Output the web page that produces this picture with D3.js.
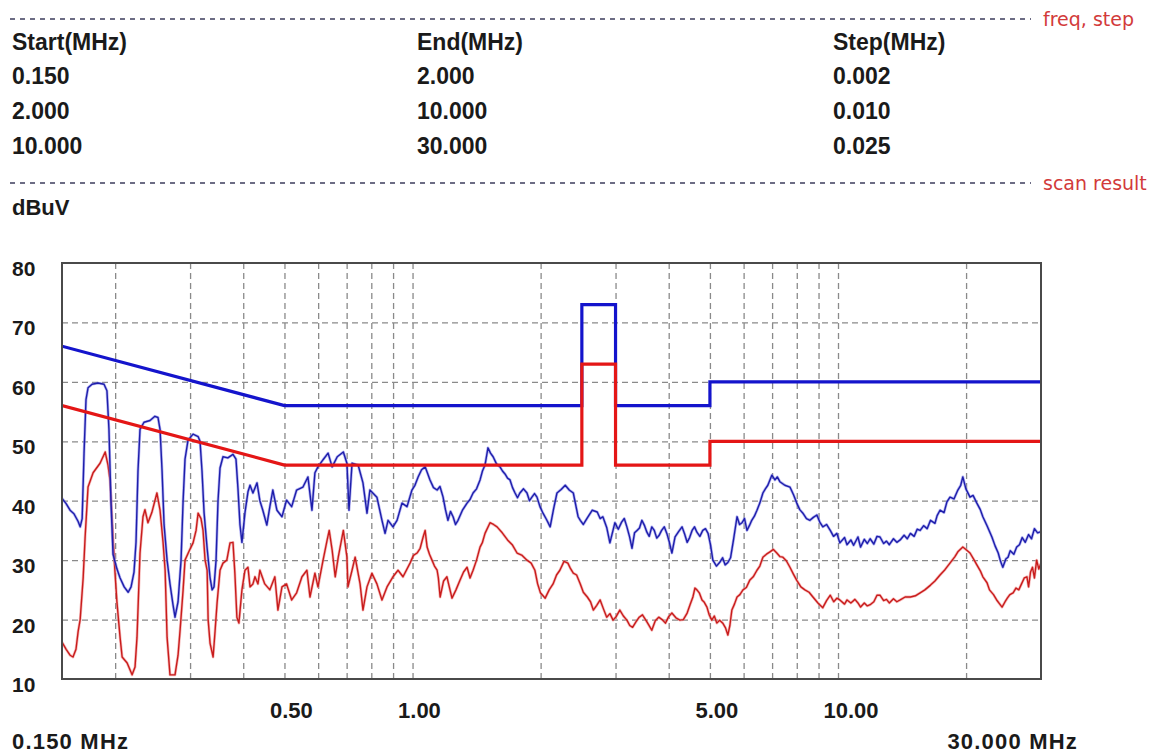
<!DOCTYPE html>
<html>
<head>
<meta charset="utf-8">
<script src="https://cdn.jsdelivr.net/npm/d3@7"></script>
<style>
  body { margin: 0; background: #ffffff; }
  svg { display: block; }
</style>
</head>
<body>
<svg id="chart" width="1152" height="754"></svg>
<script>
// ---- scan settings table ----
const tableHeaders = ["Start(MHz)", "End(MHz)", "Step(MHz)"];
const startFreqs = ["0.150", "2.000", "10.000"];
const endFreqs = ["2.000", "10.000", "30.000"];
const stepSizes = ["0.002", "0.010", "0.025"];
const sectionTitles = ["freq, step", "scan result"];

// ---- axes ----
const yUnit = "dBuV";
const yTicks = [10, 20, 30, 40, 50, 60, 70, 80];
const yGrid = [20, 30, 40, 50, 60, 70];
const xTickValues = [0.5, 1, 5, 10];
const xGrid = [0.2, 0.3, 0.4, 0.5, 0.6, 0.7, 0.8, 0.9, 1, 2, 3, 4, 5, 6, 7, 8, 9, 10, 20];
const xEndLabels = ["0.150 MHz", "30.000 MHz"];

// ---- limit lines (MHz, dBuV) ----
const limitFreq = [0.15, 0.5, 2.5, 2.5, 3.0, 3.0, 5, 5, 30];
const qpLimit = [66, 56, 56, 73, 73, 56, 56, 60, 60];
const avLimit = [56, 46, 46, 63, 63, 46, 46, 50, 50];

// ---- peak scan, blue: [MHz, dBuV] ----
const peakScan = [
  [0.150,40.4],[0.1534,39.5],[0.1567,38.4],[0.160,37.8],[0.1637,36.5],[0.1655,35.6],[0.1673,37.0],[0.169,48.0],[0.1708,57.0],[0.1727,59.0],
  [0.1765,59.6],[0.1823,59.8],[0.1883,59.6],[0.1913,58.5],[0.1934,52.0],[0.1955,40.0],[0.1977,31.0],[0.202,28.5],[0.2054,27.0],[0.210,25.5],
  [0.2146,24.6],[0.218,25.5],[0.2215,28.0],[0.2239,33.0],[0.2263,45.0],[0.2288,52.0],[0.2338,53.2],[0.2415,53.5],[0.248,54.2],[0.2522,54.0],
  [0.255,52.0],[0.2578,45.0],[0.2606,36.0],[0.2649,30.0],[0.2691,26.0],[0.2735,22.5],[0.2765,20.4],[0.2811,23.0],[0.2857,30.0],[0.2889,40.0],
  [0.2919,47.0],[0.2967,50.2],[0.3049,51.2],[0.3133,50.8],[0.3166,50.0],[0.320,45.0],[0.3236,38.0],[0.329,32.0],[0.3343,27.0],[0.338,25.0],
  [0.3415,25.5],[0.3453,30.0],[0.349,40.0],[0.3528,45.5],[0.3585,47.4],[0.368,47.2],[0.3784,47.8],[0.3846,47.0],[0.3888,42.0],[0.393,36.0],
  [0.3972,33.0],[0.4038,38.0],[0.4104,41.5],[0.415,42.6],[0.4216,41.3],[0.431,43.0],[0.4377,40.0],[0.4447,38.4],[0.4545,35.9],[0.462,39.0],
  [0.4695,41.8],[0.480,38.4],[0.4933,37.3],[0.5057,40.1],[0.5199,39.0],[0.534,41.8],[0.5526,42.3],[0.5677,44.0],[0.5802,38.4],[0.5896,44.7],
  [0.5994,45.7],[0.6162,46.9],[0.6331,48.0],[0.6472,45.7],[0.6654,47.4],[0.6876,48.2],[0.7011,46.3],[0.709,38.4],[0.7208,46.3],[0.7449,46.0],
  [0.7647,43.0],[0.7815,37.9],[0.794,41.8],[0.8246,40.6],[0.8475,36.7],[0.8618,34.5],[0.8759,36.7],[0.8995,35.6],[0.9195,36.7],[0.9445,39.6],
  [0.9706,39.0],[0.9968,41.8],[1.013,42.6],[1.0307,44.0],[1.05,45.2],[1.0705,45.7],[1.085,44.6],[1.099,43.5],[1.12,42.2],[1.1422,41.8],
  [1.16,42.4],[1.1797,40.6],[1.195,38.5],[1.2112,36.7],[1.228,38.2],[1.2453,37.3],[1.262,36.0],[1.2791,36.7],[1.31,38.4],[1.3432,39.6],
  [1.365,40.2],[1.3876,41.3],[1.414,42.0],[1.441,43.5],[1.46,45.0],[1.4803,46.0],[1.504,48.9],[1.525,48.0],[1.5466,47.4],[1.575,46.2],
  [1.605,45.7],[1.627,45.0],[1.6495,44.5],[1.672,43.8],[1.6946,43.5],[1.718,42.2],[1.7415,41.3],[1.765,40.5],[1.788,41.3],[1.823,42.0],
  [1.858,41.3],[1.883,40.0],[1.908,40.6],[1.935,41.2],[1.961,40.6],[1.993,39.0],[2.026,37.9],[2.066,36.8],[2.106,35.6],[2.145,38.6],
  [2.185,41.3],[2.235,41.9],[2.285,42.6],[2.335,41.8],[2.387,41.3],[2.45,37.3],[2.479,36.7],[2.52,36.0],[2.575,37.1],[2.645,38.4],
  [2.717,38.1],[2.76,37.0],[2.801,37.3],[2.86,35.5],[2.91,32.9],[2.99,36.3],[3.045,35.2],[3.10,36.4],[3.145,37.0],[3.19,35.6],
  [3.235,34.0],[3.28,32.0],[3.325,34.6],[3.37,35.0],[3.415,35.4],[3.46,36.7],[3.51,35.8],[3.555,34.7],[3.60,34.0],[3.65,35.6],
  [3.70,35.0],[3.75,33.7],[3.80,34.2],[3.85,35.0],[3.905,35.6],[3.96,34.5],[4.015,33.0],[4.07,31.2],[4.14,33.9],[4.22,34.8],
  [4.30,35.6],[4.36,34.4],[4.42,33.0],[4.48,33.8],[4.54,35.0],[4.60,35.6],[4.66,34.7],[4.735,34.0],[4.81,35.0],[4.88,35.3],
  [4.95,34.5],[5.015,32.6],[5.08,30.0],[5.18,29.0],[5.28,29.7],[5.355,30.4],[5.43,29.2],[5.51,29.6],[5.59,30.4],[5.68,33.4],
  [5.79,37.3],[5.87,36.0],[5.95,36.3],[6.03,37.0],[6.11,35.0],[6.19,35.8],[6.27,36.7],[6.36,37.4],[6.45,38.4],[6.55,39.6],
  [6.66,41.3],[6.75,42.0],[6.84,42.6],[6.99,44.3],[7.11,43.5],[7.20,44.0],[7.30,43.2],[7.50,42.6],[7.71,42.3],[7.86,41.0],
  [8.00,39.6],[8.13,38.5],[8.27,37.9],[8.43,37.0],[8.59,36.7],[8.75,37.2],[8.92,37.6],[9.06,36.4],[9.21,35.6],[9.40,36.0],
  [9.59,35.0],[9.76,34.0],[9.94,34.5],[10.1,32.9],[10.36,33.8],[10.5,32.6],[10.72,33.4],[10.88,32.5],[11.14,33.9],[11.3,32.2],
  [11.53,33.5],[11.72,32.8],[11.9,33.6],[12.14,32.7],[12.35,34.0],[12.55,33.9],[12.8,32.8],[13.0,33.2],[13.2,32.6],[13.5,33.6],
  [13.75,33.0],[14.0,33.4],[14.3,34.2],[14.55,33.6],[14.8,34.5],[15.1,34.0],[15.35,35.2],[15.6,35.0],[15.9,35.8],[16.2,35.3],
  [16.5,36.7],[16.9,36.2],[17.1,37.5],[17.37,38.4],[17.75,38.0],[18.03,39.8],[18.33,40.6],[18.73,40.3],[19.13,41.8],[19.43,42.6],
  [19.65,44.0],[19.98,42.0],[20.43,40.6],[20.77,40.9],[21.2,39.6],[21.6,38.5],[21.9,37.3],[22.4,35.8],[23.0,33.9],[23.4,32.4],
  [23.8,31.2],[24.1,29.8],[24.4,28.8],[24.8,30.2],[25.1,30.5],[25.4,31.6],[25.9,31.0],[26.3,32.2],[26.7,32.6],[27.1,33.8],
  [27.55,33.0],[28.05,34.3],[28.5,33.6],[28.95,35.3],[29.45,34.6],[30.0,34.8]
];

// ---- average scan, red: [MHz, dBuV] ----
const avgScan = [
  [0.150,16.2],[0.1534,15.0],[0.1567,14.0],[0.1592,13.7],[0.1618,15.0],[0.1637,18.0],[0.1655,20.0],[0.1682,27.0],[0.170,33.9],[0.1727,42.3],
  [0.1775,44.7],[0.1843,46.3],[0.1895,48.2],[0.1924,46.0],[0.1945,43.5],[0.1977,33.9],[0.1998,28.0],[0.202,22.8],[0.2054,17.0],[0.2077,13.7],
  [0.2134,12.7],[0.2192,10.7],[0.2227,12.0],[0.2251,17.0],[0.2288,31.2],[0.2325,37.3],[0.235,38.5],[0.2388,36.3],[0.2439,38.0],[0.2507,41.3],
  [0.255,38.4],[0.2592,33.0],[0.2621,28.3],[0.2649,17.0],[0.2691,10.7],[0.2765,10.7],[0.2811,14.0],[0.2842,18.2],[0.2889,25.0],[0.2919,30.0],
  [0.2983,31.5],[0.3049,32.9],[0.3099,35.0],[0.3133,37.9],[0.3183,37.0],[0.3218,35.0],[0.3254,30.0],[0.329,28.3],[0.3308,20.0],[0.3343,16.0],
  [0.3398,13.7],[0.3434,18.0],[0.3472,22.8],[0.3528,28.3],[0.3585,29.5],[0.366,30.0],[0.3724,32.9],[0.3784,33.0],[0.3823,27.8],[0.3865,20.4],
  [0.3907,19.4],[0.3972,25.0],[0.4038,28.3],[0.4104,28.8],[0.415,25.5],[0.4216,26.0],[0.4262,27.2],[0.4332,26.0],[0.4377,28.3],[0.4494,26.0],
  [0.462,25.0],[0.4747,27.2],[0.4826,21.6],[0.4933,25.5],[0.5057,26.0],[0.5199,23.3],[0.534,24.5],[0.5497,27.2],[0.5646,28.3],[0.574,23.8],
  [0.5896,27.8],[0.5994,25.5],[0.6162,30.0],[0.630,33.4],[0.637,35.0],[0.6472,31.7],[0.658,27.2],[0.669,30.5],[0.6876,35.0],[0.7011,30.5],
  [0.705,25.5],[0.7208,28.3],[0.733,30.5],[0.7528,26.0],[0.7647,21.6],[0.7815,25.5],[0.8027,27.8],[0.8246,26.0],[0.8475,23.3],[0.871,25.5],
  [0.8995,27.2],[0.9245,28.3],[0.9497,27.2],[0.9865,29.5],[1.005,30.8],[1.0248,31.2],[1.042,32.0],[1.059,33.9],[1.0705,35.0],[1.082,32.2],
  [1.096,31.0],[1.111,30.0],[1.126,29.0],[1.1422,28.3],[1.15,27.0],[1.161,23.8],[1.183,26.5],[1.2044,27.2],[1.22,25.5],[1.238,23.6],
  [1.265,25.0],[1.2926,26.6],[1.318,28.0],[1.3432,28.8],[1.365,27.0],[1.3876,28.3],[1.414,30.0],[1.441,32.2],[1.46,33.0],[1.4803,34.5],
  [1.521,36.3],[1.55,36.0],[1.58,35.6],[1.625,34.6],[1.672,33.4],[1.715,32.6],[1.7605,31.2],[1.81,30.8],[1.858,30.0],[1.90,29.5],
  [1.939,28.3],[1.968,26.0],[1.998,24.5],[2.05,23.6],[2.095,25.0],[2.1395,26.0],[2.18,27.5],[2.2195,28.3],[2.27,29.8],[2.318,29.5],
  [2.35,28.6],[2.387,27.8],[2.43,27.5],[2.479,26.0],[2.52,24.6],[2.575,23.8],[2.62,23.0],[2.66,21.6],[2.71,22.4],[2.76,23.3],
  [2.81,21.8],[2.86,20.4],[2.91,21.0],[2.96,19.9],[3.01,20.5],[3.07,21.6],[3.13,20.6],[3.19,19.9],[3.24,19.0],[3.29,18.7],
  [3.35,19.6],[3.41,20.4],[3.47,20.8],[3.535,19.9],[3.59,19.1],[3.65,18.2],[3.72,19.8],[3.79,20.4],[3.86,20.0],[3.93,19.4],
  [4.0,20.5],[4.07,21.1],[4.16,20.3],[4.25,19.9],[4.33,20.0],[4.42,21.1],[4.49,22.5],[4.56,23.8],[4.61,25.3],[4.66,25.0],
  [4.72,24.5],[4.79,23.3],[4.85,22.9],[4.92,22.1],[4.98,20.8],[5.05,19.9],[5.12,20.6],[5.19,19.4],[5.27,19.9],[5.36,19.4],
  [5.44,18.6],[5.51,17.4],[5.57,19.0],[5.63,21.6],[5.71,22.6],[5.79,23.8],[5.88,24.2],[5.98,25.0],[6.09,25.4],[6.20,26.6],
  [6.32,27.2],[6.45,28.3],[6.55,29.0],[6.66,30.5],[6.79,31.0],[6.92,31.4],[7.05,31.8],[7.18,31.2],[7.30,30.6],[7.42,30.5],
  [7.56,29.9],[7.71,28.8],[7.85,27.7],[8.0,26.6],[8.18,25.5],[8.36,25.0],[8.55,24.6],[8.73,23.8],[8.97,22.8],[9.21,22.0],
  [9.40,23.2],[9.59,24.1],[9.77,23.0],[9.94,23.6],[10.1,23.3],[10.36,22.6],[10.5,23.3],[10.72,22.8],[10.96,23.4],[11.14,22.8],
  [11.3,22.1],[11.53,22.8],[11.72,22.3],[11.9,22.5],[12.14,23.0],[12.35,24.1],[12.55,24.1],[12.8,23.2],[13.0,23.4],[13.2,22.8],
  [13.5,23.5],[13.75,23.0],[14.0,23.3],[14.38,23.8],[14.8,23.8],[15.2,24.0],[15.6,24.5],[16.0,25.0],[16.5,25.8],[16.9,26.5],
  [17.37,27.5],[17.84,28.4],[18.33,29.5],[18.83,30.6],[19.13,31.4],[19.65,32.2],[19.98,31.8],[20.43,31.2],[20.9,30.0],[21.2,29.2],
  [21.6,28.2],[21.9,27.2],[22.4,26.2],[22.7,25.0],[23.2,24.2],[23.6,23.3],[24.0,22.6],[24.3,22.1],[24.7,23.0],[25.0,23.6],
  [25.35,24.2],[25.8,24.5],[26.2,25.3],[26.6,25.0],[27.0,26.0],[27.4,27.0],[27.8,27.2],[28.05,25.5],[28.35,28.0],[28.65,28.8],
  [28.95,27.0],[29.3,30.0],[29.65,28.5],[30.0,29.5]
];

// ---- layout ----
const plot = { left: 62, right: 1041, top: 263, bottom: 679 };
const boldFont = "'Liberation Sans', Arial, sans-serif";
const noteFont = "'DejaVu Sans', Verdana, sans-serif";
const ink = "#1a1a1a";

const svg = d3.select("#chart");

const x = d3.scaleLog().domain([0.15, 30]).range([plot.left, plot.right]);
const y = d3.scaleLinear().domain([10, 80]).range([plot.bottom, plot.top]);

// ---- header: section separators and settings table ----
const separators = [19, 183];
separators.forEach((sy, i) => {
  svg.append("line")
    .attr("x1", 10).attr("x2", 1031)
    .attr("y1", sy).attr("y2", sy)
    .attr("stroke", "#3c3c5c").attr("stroke-width", 1.3)
    .attr("stroke-dasharray", "5,5");
  svg.append("text")
    .attr("x", 1043).attr("y", sy + 7)
    .attr("font-family", noteFont).attr("font-size", 19)
    .attr("fill", "#d23a3a")
    .text(sectionTitles[i]);
});

const colX = [12, 417, 833];
const rowY = [50, 84, 119, 154];
const columns = [startFreqs, endFreqs, stepSizes];
const table = svg.append("g")
  .attr("font-family", boldFont).attr("font-weight", "bold")
  .attr("font-size", 23).attr("fill", ink);
tableHeaders.forEach((h, c) => {
  table.append("text").attr("x", colX[c]).attr("y", rowY[0]).text(h);
  columns[c].forEach((v, r) => {
    table.append("text").attr("x", colX[c]).attr("y", rowY[r + 1]).text(v);
  });
});

svg.append("text")
  .attr("x", 12).attr("y", 215)
  .attr("font-family", boldFont).attr("font-weight", "bold")
  .attr("font-size", 22).attr("fill", ink)
  .text(yUnit);

// ---- grid ----
const gridStyle = g => {
  g.select(".domain").remove();
  g.selectAll(".tick line")
    .attr("stroke", "#8a8a8a").attr("stroke-width", 1.3)
    .attr("stroke-dasharray", "6,4");
};
svg.append("g")
  .attr("transform", `translate(0,${plot.bottom})`)
  .call(d3.axisBottom(x).tickValues(xGrid).tickSize(-(plot.bottom - plot.top)).tickFormat(""))
  .call(gridStyle);
svg.append("g")
  .attr("transform", `translate(${plot.left},0)`)
  .call(d3.axisLeft(y).tickValues(yGrid).tickSize(-(plot.right - plot.left)).tickFormat(""))
  .call(gridStyle);

// ---- axis labels ----
const gy = svg.append("g")
  .attr("transform", `translate(${plot.left},0)`)
  .call(d3.axisLeft(y).tickValues(yTicks).tickSize(0).tickFormat(d3.format("d")));
gy.select(".domain").remove();
gy.attr("font-family", boldFont).attr("font-size", 21).attr("font-weight", "bold");
gy.selectAll("text")
  .attr("x", 12 - plot.left).attr("dy", null).attr("y", 12.5)
  .attr("text-anchor", "start").attr("fill", ink);

const gx = svg.append("g")
  .attr("transform", `translate(0,${plot.bottom})`)
  .call(d3.axisBottom(x).tickValues(xTickValues).tickSize(0).tickFormat(d3.format(".2f")));
gx.select(".domain").remove();
gx.attr("font-family", boldFont).attr("font-size", 22).attr("font-weight", "bold");
gx.selectAll("text")
  .attr("x", -15).attr("dy", null).attr("y", 718 - plot.bottom)
  .attr("text-anchor", "start").attr("fill", ink);

const endLabels = svg.append("g")
  .attr("font-family", boldFont).attr("font-weight", "bold")
  .attr("font-size", 22).attr("letter-spacing", 1.2).attr("fill", ink);
endLabels.append("text").attr("x", 12).attr("y", 749).text(xEndLabels[0]);
endLabels.append("text").attr("x", 1078).attr("y", 749)
  .attr("text-anchor", "end").text(xEndLabels[1]);

// ---- plot contents ----
svg.append("clipPath").attr("id", "plot-clip")
  .append("rect")
  .attr("x", plot.left).attr("y", plot.top)
  .attr("width", plot.right - plot.left).attr("height", plot.bottom - plot.top);

const content = svg.append("g").attr("clip-path", "url(#plot-clip)");
const line = d3.line().x(d => x(d[0])).y(d => y(d[1]));

// measured traces: soft halo under a thin core
const traces = [
  { pts: avgScan, halo: "#f08a8a", core: "#c81c1c" },
  { pts: peakScan, halo: "#8080ea", core: "#1e1eaa" }
];
traces.forEach(t => {
  content.append("path").datum(t.pts).attr("d", line)
    .attr("fill", "none").attr("stroke", t.halo)
    .attr("stroke-width", 2.8).attr("stroke-opacity", 0.6)
    .attr("stroke-linejoin", "round");
  content.append("path").datum(t.pts).attr("d", line)
    .attr("fill", "none").attr("stroke", t.core)
    .attr("stroke-width", 1.4).attr("stroke-linejoin", "round");
});

// limit lines
[
  { v: qpLimit, color: "#1414cc" },
  { v: avLimit, color: "#e41616" }
].forEach(l => {
  content.append("path").datum(d3.zip(limitFreq, l.v)).attr("d", line)
    .attr("fill", "none").attr("stroke", l.color)
    .attr("stroke-width", 3.2).attr("stroke-linejoin", "miter");
});

// frame
svg.append("rect")
  .attr("x", plot.left).attr("y", plot.top)
  .attr("width", plot.right - plot.left).attr("height", plot.bottom - plot.top)
  .attr("fill", "none").attr("stroke", "#4a4a4a").attr("stroke-width", 2);
</script>
</body>
</html>
